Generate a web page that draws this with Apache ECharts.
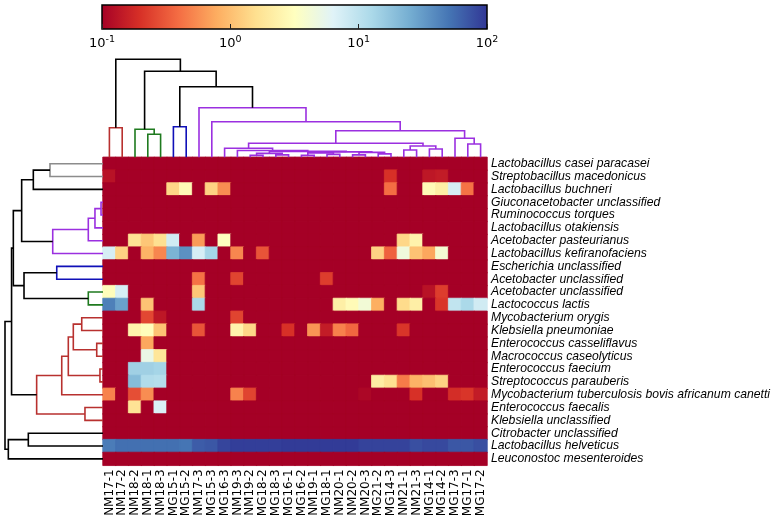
<!DOCTYPE html>
<html><head><meta charset="utf-8">
<script src="https://cdn.jsdelivr.net/npm/echarts@6/dist/echarts.min.js"></script>
<style>html,body{margin:0;padding:0;background:#fff}#c{width:778px;height:523px}</style>
</head><body><div id="c"></div>
<script>
const colLabels = ['NM17-1','NM17-2','NM18-2','NM18-1','NM18-3','MG15-1','MG15-2','NM17-3','MG15-3','MG16-3','NM19-3','NM19-2','MG18-2','MG18-3','MG16-1','MG16-2','NM19-1','MG18-1','NM20-1','NM20-2','NM20-3','MG21-2','MG14-3','NM21-1','NM21-3','MG14-1','MG14-2','MG17-3','MG17-1','MG17-2'];
const rowLabels = ['Lactobacillus casei paracasei','Streptobacillus macedonicus','Lactobacillus buchneri','Giuconacetobacter unclassified','Ruminococcus torques','Lactobacillus otakiensis','Acetobacter pasteurianus','Lactobacillus kefiranofaciens','Escherichia unclassified','Acetobacter unclassified','Acetobacter unclassified','Lactococcus lactis','Mycobacterium orygis','Klebsiella pneumoniae','Enterococcus casseliflavus','Macrococcus caseolyticus','Enterococcus faecium','Streptococcus parauberis','Mycobacterium tuberculosis bovis africanum canetti','Enterococcus faecalis','Klebsiella unclassified','Citrobacter unclassified','Lactobacillus helveticus','Leuconostoc mesenteroides'];
const colorbarTicks = [0.1, 1, 10, 100];
const colorbarTickLabels = ['10{s|-1}','10{s|0}','10{s|1}','10{s|2}'];

// abundance values per row (columns in colLabels order); 0.1 = floor of the scale
const abundance = [
 [0.1,0.1,0.1,0.1,0.1,0.1,0.1,0.1,0.1,0.1,0.1,0.1,0.1,0.1,0.1,0.1,0.1,0.1,0.1,0.1,0.1,0.1,0.1,0.1,0.1,0.1,0.1,0.1,0.1,0.1],
 [0.13,0.1,0.1,0.1,0.1,0.1,0.1,0.1,0.1,0.1,0.1,0.1,0.1,0.1,0.1,0.1,0.1,0.1,0.1,0.1,0.1,0.1,0.2,0.1,0.1,0.14,0.15,0.1,0.1,0.1],
 [0.1,0.1,0.1,0.1,0.1,1.4,2.8,0.1,1.3,0.56,0.1,0.1,0.1,0.1,0.1,0.1,0.1,0.1,0.1,0.1,0.1,0.1,0.4,0.1,0.1,2.8,2.2,7.2,0.42,0.1],
 [0.1,0.1,0.1,0.1,0.1,0.1,0.1,0.1,0.1,0.1,0.1,0.1,0.1,0.1,0.1,0.1,0.1,0.1,0.1,0.1,0.1,0.1,0.1,0.1,0.1,0.1,0.1,0.1,0.1,0.1],
 [0.1,0.1,0.1,0.1,0.1,0.1,0.1,0.1,0.1,0.1,0.1,0.1,0.1,0.1,0.1,0.1,0.1,0.1,0.1,0.1,0.1,0.1,0.1,0.1,0.1,0.1,0.1,0.1,0.1,0.1],
 [0.1,0.1,0.1,0.1,0.1,0.1,0.1,0.1,0.1,0.1,0.1,0.1,0.1,0.1,0.1,0.1,0.1,0.1,0.1,0.1,0.1,0.1,0.1,0.1,0.1,0.1,0.1,0.1,0.1,0.1],
 [0.1,0.1,1.7,1.1,1.6,7.8,0.1,0.65,0.1,3.2,0.1,0.1,0.1,0.1,0.1,0.1,0.1,0.1,0.1,0.1,0.1,0.1,0.1,1.4,2.4,0.1,0.1,0.1,0.1,0.1],
 [7.2,1.3,0.1,0.85,0.52,23,36,7.2,13.5,0.1,0.52,0.1,0.3,0.1,0.1,0.1,0.1,0.1,0.1,0.1,0.1,1.3,0.35,4.5,1.05,0.74,4,0.1,0.1,0.1],
 [0.1,0.1,0.1,0.1,0.1,0.1,0.1,0.1,0.1,0.1,0.1,0.1,0.1,0.1,0.1,0.1,0.1,0.1,0.1,0.1,0.1,0.1,0.1,0.1,0.1,0.1,0.1,0.1,0.1,0.1],
 [0.1,0.1,0.1,0.1,0.1,0.1,0.1,0.42,0.1,0.1,0.25,0.1,0.1,0.1,0.1,0.1,0.1,0.23,0.1,0.1,0.1,0.1,0.1,0.1,0.1,0.1,0.1,0.1,0.1,0.1],
 [3,7.2,0.1,0.1,0.1,0.1,0.1,1.1,0.1,0.1,0.1,0.1,0.1,0.1,0.1,0.1,0.1,0.1,0.1,0.1,0.1,0.1,0.1,0.1,0.1,0.13,0.23,0.1,0.1,0.1],
 [44,29,0.1,1.05,0.1,0.1,0.1,12.6,0.1,0.1,0.1,0.1,0.1,0.1,0.1,0.1,0.1,0.1,2.2,2.8,4.2,0.8,0.1,1.5,2.2,0.1,0.21,9.5,12.6,7.8],
 [0.1,0.1,0.1,0.26,0.14,0.1,0.1,0.1,0.1,0.1,0.25,0.1,0.1,0.1,0.1,0.1,0.1,0.1,0.1,0.1,0.1,0.1,0.1,0.1,0.1,0.1,0.1,0.1,0.1,0.1],
 [0.1,0.1,2.4,3,1.05,0.1,0.1,0.3,0.1,0.1,2.4,1.4,0.1,0.1,0.2,0.1,0.6,0.15,0.49,0.37,0.1,0.1,0.1,0.21,0.1,0.1,0.1,0.1,0.1,0.1],
 [0.1,0.1,0.1,0.74,0.1,0.1,0.1,0.1,0.1,0.1,0.1,0.1,0.1,0.1,0.1,0.1,0.1,0.1,0.1,0.1,0.1,0.1,0.1,0.1,0.1,0.1,0.1,0.1,0.1,0.1],
 [0.1,0.1,0.1,5.1,1.8,0.1,0.1,0.1,0.1,0.1,0.1,0.1,0.1,0.1,0.1,0.1,0.1,0.1,0.1,0.1,0.1,0.1,0.1,0.1,0.1,0.1,0.1,0.1,0.1,0.1],
 [0.1,0.1,14.5,14.5,13.5,0.1,0.1,0.1,0.1,0.1,0.1,0.1,0.1,0.1,0.1,0.1,0.1,0.1,0.1,0.1,0.1,0.1,0.1,0.1,0.1,0.1,0.1,0.1,0.1,0.1],
 [0.1,0.1,20,11.7,11,0.1,0.1,0.1,0.1,0.1,0.1,0.1,0.1,0.1,0.1,0.1,0.1,0.1,0.1,0.1,0.1,2.1,1.6,0.46,0.85,1.0,1.3,0.1,0.1,0.1],
 [0.5,0.1,0.28,0.56,0.1,0.1,0.1,0.1,0.1,0.1,0.5,0.25,0.1,0.1,0.1,0.1,0.1,0.1,0.1,0.1,0.11,0.1,0.1,0.1,0.2,0.1,0.1,0.19,0.21,0.15],
 [0.1,0.1,1.7,0.1,6.8,0.1,0.1,0.1,0.1,0.1,0.1,0.1,0.1,0.1,0.1,0.1,0.1,0.1,0.1,0.1,0.1,0.1,0.1,0.1,0.1,0.1,0.1,0.1,0.1,0.1],
 [0.1,0.1,0.1,0.1,0.1,0.1,0.1,0.1,0.1,0.1,0.1,0.1,0.1,0.1,0.1,0.1,0.1,0.1,0.1,0.1,0.1,0.1,0.1,0.1,0.1,0.1,0.1,0.1,0.1,0.1],
 [0.1,0.1,0.1,0.1,0.1,0.1,0.1,0.1,0.1,0.1,0.1,0.1,0.1,0.1,0.1,0.1,0.1,0.1,0.1,0.1,0.1,0.1,0.1,0.1,0.1,0.1,0.1,0.1,0.1,0.1],
 [46,53,53,53,53,53,50,66,70,85,92,92,92,92,95,95,95,95,95,95,87,87,87,87,76,81,81,70,70,76],
 [0.1,0.1,0.1,0.1,0.1,0.1,0.1,0.1,0.1,0.1,0.1,0.1,0.1,0.1,0.1,0.1,0.1,0.1,0.1,0.1,0.1,0.1,0.1,0.1,0.1,0.1,0.1,0.1,0.1,0.1]
];

// dendrogram links: [childA, childB, height, colour]; number = leaf index, 'nK' = K-th link
const colDendro = [
 [0,1,0.302,'red'], [3,4,0.235,'green'], [2,'n1',0.286,'green'], [5,6,0.312,'blue'],
 [28,29,0.136,'purple'], [27,'n4',0.194,'purple'], [23,24,0.074,'purple'], [25,26,0.085,'purple'],
 ['n6','n7',0.115,'purple'],
 [11,12,0.02,'purple'], [13,14,0.025,'purple'], ['n9','n10',0.04,'purple'],
 [15,16,0.02,'purple'], [17,18,0.03,'purple'], ['n12','n13',0.045,'purple'],
 [19,20,0.025,'purple'], [21,22,0.035,'purple'], ['n15','n16',0.05,'purple'],
 ['n14','n17',0.055,'purple'], ['n11','n18',0.06,'purple'], [10,'n19',0.07,'purple'],
 [9,'n20',0.092,'purple'], ['n21','n8',0.143,'purple'], ['n22','n5',0.271,'purple'],
 [8,'n23',0.363,'purple'], [7,'n24',0.506,'purple'],
 ['n3','n25',0.72,'black'], ['n2','n26',0.878,'black'], ['n0','n27',1.0,'black']
];
const rowDendro = [
 [0,1,0.541,'gray'], ['n0',2,0.711,'black'], [3,4,0.02,'purple'], ['n2',5,0.082,'purple'],
 ['n3',6,0.15,'purple'], ['n4',7,0.513,'purple'], ['n1','n5',0.83,'black'],
 [8,9,0.472,'blue'], [10,11,0.15,'green'], ['n7','n8',0.806,'black'], ['n6','n9',0.915,'black'],
 [12,13,0.217,'red'], [14,15,0.064,'red'], ['n11','n12',0.303,'red'], [16,17,0.031,'red'],
 ['n13','n14',0.354,'red'], ['n15',18,0.421,'red'], [19,20,0.184,'red'], ['n16','n17',0.677,'red'],
 ['n10','n18',0.933,'black'], [21,22,0.762,'black'], ['n20',23,0.966,'black'], ['n19','n21',1.0,'black']
];

const palette = {red:'#b8312f', green:'#1f7a1f', blue:'#1010b8', purple:'#9b30e0', gray:'#8c8c8c', black:'#000000'};
const rdylbu = ['#a50026','#d73027','#f46d43','#fdae61','#fee090','#ffffbf','#e0f3f8','#abd9e9','#74add1','#4575b4','#313695'];

function dendroSegments(links, swap) {
  const nodes = {};
  const get = c => typeof c === 'number' ? {p: c, h: 0} : nodes[c];
  const out = [];
  links.forEach((lk, k) => {
    const a = get(lk[0]), b = get(lk[1]), h = lk[2];
    nodes['n' + k] = {p: (a.p + b.p) / 2, h: h};
    let pts = [[a.p, a.h], [a.p, h], [b.p, h], [b.p, b.h]];
    if (swap) pts = pts.map(q => [q[1], q[0]]);
    out.push({coords: pts, lineStyle: {color: palette[lk[3]]}});
  });
  return out;
}

// log colour scale 0.1 .. 100 through ECharts' own colour interpolation
const logMin = Math.log10(colorbarTicks[0]), logMax = Math.log10(colorbarTicks[3]);
function cellColor(v) {
  const t = Math.min(1, Math.max(0, (Math.log10(v) - logMin) / (logMax - logMin)));
  return echarts.color.lerp(t, rdylbu);
}
const heatData = [];
abundance.forEach((row, r) => row.forEach((v, c) => {
  const col = cellColor(v);
  heatData.push({value: [c, r, v], itemStyle: {color: col, borderColor: col, borderWidth: 0.8}});
}));

const HM = {left: 103, top: 157.3, width: 384, height: 308};
const CB = {left: 102, top: 5, width: 385, height: 24};

const chart = echarts.init(document.getElementById('c'), null, {renderer: 'canvas'});
chart.setOption({
  animation: false,
  backgroundColor: '#ffffff',
  grid: [
    {left: HM.left, top: HM.top, width: HM.width, height: HM.height},
    {left: HM.left, top: HM.top - 98, width: HM.width, height: 98},
    {left: 5, top: HM.top, width: HM.left - 5, height: HM.height},
    {left: CB.left, top: CB.top, width: CB.width, height: CB.height}
  ],
  xAxis: [
    {type: 'category', gridIndex: 0, data: colLabels, axisLine: {show: false}, axisTick: {show: false},
     axisLabel: {rotate: 90, interval: 0, fontSize: 12, fontFamily: 'DejaVu Sans', color: '#000', margin: 4}},
    {type: 'value', gridIndex: 1, min: -0.5, max: colLabels.length - 0.5, show: false},
    {type: 'value', gridIndex: 2, min: 0, max: 1, inverse: true, show: false},
    {type: 'log', gridIndex: 3, logBase: 10, min: colorbarTicks[0], max: colorbarTicks[3],
     axisLine: {show: false}, splitLine: {show: false},
     axisTick: {show: true, inside: true, length: 5, lineStyle: {color: '#222', width: 1}},
     axisLabel: {margin: 6, color: '#000', fontFamily: 'DejaVu Sans', fontSize: 13,
       formatter: v => { const i = colorbarTicks.findIndex(t => Math.abs(t - v) / t < 1e-6); return i < 0 ? '' : colorbarTickLabels[i]; },
       rich: {s: {fontSize: 9.5, fontFamily: 'DejaVu Sans', color: '#000', verticalAlign: 'top', padding: [0, 0, 7, 0]}}}}
  ],
  yAxis: [
    {type: 'category', gridIndex: 0, data: rowLabels, inverse: true, position: 'right', axisLine: {show: false}, axisTick: {show: false},
     axisLabel: {interval: 0, fontSize: 12.2, fontStyle: 'italic', fontFamily: 'Liberation Sans', color: '#000', margin: 4}},
    {type: 'value', gridIndex: 1, min: 0, max: 1, show: false},
    {type: 'value', gridIndex: 2, min: -0.5, max: rowLabels.length - 0.5, inverse: true, show: false},
    {type: 'value', gridIndex: 3, min: 0, max: 1, show: false}
  ],
  graphic: [{type: 'rect', z: -10, silent: true,
    shape: {x: CB.left, y: CB.top, width: CB.width, height: CB.height},
    style: {fill: new echarts.graphic.LinearGradient(0, 0, 1, 0, rdylbu.map((c, i) => ({offset: i / (rdylbu.length - 1), color: c}))),
            stroke: '#000', lineWidth: 1.5}}],
  series: [
    {type: 'heatmap', xAxisIndex: 0, yAxisIndex: 0, data: heatData, emphasis: {disabled: true}, progressive: 0},
    {type: 'lines', coordinateSystem: 'cartesian2d', xAxisIndex: 1, yAxisIndex: 1, polyline: true, clip: false, silent: true,
     lineStyle: {width: 1.6, opacity: 1}, data: dendroSegments(colDendro, false)},
    {type: 'lines', coordinateSystem: 'cartesian2d', xAxisIndex: 2, yAxisIndex: 2, polyline: true, clip: false, silent: true,
     lineStyle: {width: 1.6, opacity: 1}, data: dendroSegments(rowDendro, true)}
  ]
});
</script></body></html>
